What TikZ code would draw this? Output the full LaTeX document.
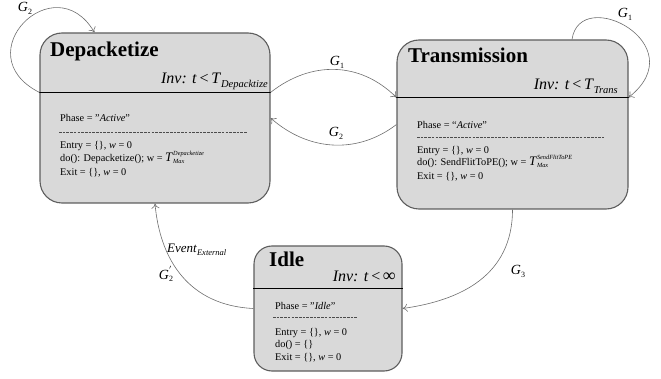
\documentclass[tikz,border=0pt]{standalone}
\usepackage{fontspec}
\setmainfont{Liberation Serif}
\usetikzlibrary{arrows.meta}

\definecolor{boxfill}{HTML}{D9D9D9}
\definecolor{boxline}{HTML}{5E5E5E}
\definecolor{arcline}{HTML}{6E6E6E}

% subscript / stacked super+subscript in text fonts
\newcommand\lowsub[2][8]{\raisebox{-0.45ex}{\fontsize{#1}{#1}\selectfont #2}}
\newcommand\supsub[2]{\makebox[0pt][l]{\raisebox{1.25ex}{\fontsize{6.3}{7}\selectfont\textit{#1}}}\raisebox{-0.5ex}{\fontsize{6.3}{7}\selectfont\textit{#2}}}

\tikzset{
  statebox/.style={draw=boxline, fill=boxfill, line width=1.1pt, rounded corners=22pt, inner sep=0pt},
  sepline/.style={line width=1.8pt, black},
  dashline/.style={draw=black!70, line width=0.5pt, dash pattern=on 2.6pt off 1.1pt},
  title/.style={anchor=base west, inner sep=0pt, font=\fontsize{21}{24}\selectfont\bfseries},
  inv/.style={anchor=base east, inner sep=0pt, font=\fontsize{16}{18}\selectfont},
  body/.style={anchor=base west, inner sep=0pt, font=\fontsize{10.3}{12.7}\selectfont},
  trans/.style={draw=arcline, line width=0.6pt, -{To[length=5pt,width=8pt]}},
  glabel/.style={inner sep=0pt, font=\fontsize{14}{16}\selectfont}
}

\begin{document}
\begin{tikzpicture}[x=1pt,y=-1pt]
\useasboundingbox (0,0) rectangle (661,379);

% ---- states ----
\node[statebox, minimum width=230pt, minimum height=170pt] (dep) at (155,118) {};
\node[statebox, minimum width=231pt, minimum height=169pt] (tra) at (512.5,124.5) {};
\node[statebox, rounded corners=18pt, minimum width=148pt, minimum height=125pt] (idle) at (328,308.5) {};

% separators between header and body
\draw[sepline] ([yshift=-60pt]dep.north west) -- ([yshift=-60pt]dep.north east);
\draw[sepline] ([yshift=-58pt]tra.north west) -- ([yshift=-58pt]tra.north east);
\draw[sepline] ([yshift=-43pt]idle.north west) -- ([yshift=-43pt]idle.north east);

% ---- Depacketize ----
\node[title] (dep-t) at (50,57) {Depacketize};
\node[inv] (dep-inv) at (268,84) {\textit{Inv: t}\,<\,\textit{T}\lowsub[10.5]{\textit{Depacktize}}};
\node[body] (dep-ph) at (60,122) {Phase = "\textit{Active}"};
\draw[dashline] (59,132) -- (247,132);
\node[body] (dep-en) at (60,149) {Entry = \{\}, \textit{w} = 0};
\node[body] (dep-do) at (60,161.5) {do(): Depacketize(); w = {\fontsize{13}{13}\selectfont\textit{T}}\supsub{Depacketize}{Max}};
\node[body] (dep-ex) at (60,176) {Exit = \{\}, \textit{w} = 0};

% ---- Transmission ----
\node[title] (tra-t) at (408,63) {Transmission};
\node[inv] (tra-inv) at (618,90) {\textit{Inv: t}\,<\,\textit{T}\lowsub[10.5]{\textit{Trans}}};
\node[body] (tra-ph) at (417,129) {Phase = ``\textit{Active}''};
\draw[dashline] (417,137) -- (604,137);
\node[body] (tra-en) at (417,154) {Entry = \{\}, \textit{w} = 0};
\node[body] (tra-do) at (417,165.5) {do(): SendFlitToPE(); w = {\fontsize{13}{13}\selectfont\textit{T}}\supsub{SendFlitToPE}{Max}};
\node[body] (tra-ex) at (417,180) {Exit = \{\}, \textit{w} = 0};

% ---- Idle ----
\node[title] (idle-t) at (269,267) {Idle};
\node[inv] (idle-inv) at (396,282) {\textit{Inv: t}\,<\,{\fontsize{18}{18}\selectfont ∞}};
\node[body] (idle-ph) at (275,309) {Phase = "\textit{Idle}"};
\draw[dashline] (273,317) -- (358,317);
\node[body] (idle-en) at (275,335) {Entry = \{\}, \textit{w} = 0};
\node[body] (idle-do) at (275,347) {do() = \{\}};
\node[body] (idle-ex) at (275,360) {Exit = \{\}, \textit{w} = 0};

% ---- transitions ----
% self loop on Depacketize
\draw[trans] ([yshift=-60pt]dep.north west) .. controls +(-75,-38) and +(-40,-68) .. ([xshift=55pt]dep.north west);
% self loop on Transmission
\draw[trans] ([xshift=59.5pt]tra.north) .. controls +(8,-55) and +(67,-53) .. ([yshift=-58pt]tra.north east);
% Depacketize -> Transmission
\draw[trans] ([yshift=-60pt]dep.north east) .. controls +(40,-31.5) and +(-37,-36.5) .. ([yshift=-58pt]tra.north west);
% Transmission -> Depacketize
\draw[trans] (tra.west) .. controls +(-37,28.5) and +(40,35) .. (dep.east);
% Transmission -> Idle
\draw[trans] (tra.south) .. controls +(0,66) and +(58,-8) .. (idle.east);
% Idle -> Depacketize
\draw[trans] (idle.west) .. controls +(-64,-3) and +(5,57) .. (dep.south);

% ---- guard labels ----
\node[glabel] (l-g2loop) at (25,8) {\textit{G}\lowsub{2}};
\node[glabel] (l-g1loop) at (625,14) {\textit{G}\lowsub{1}};
\node[glabel] (l-g1) at (337,62) {\textit{G}\lowsub{1}};
\node[glabel] (l-g2) at (336,133) {\textit{G}\lowsub{2}};
\node[glabel] (l-g3) at (518,271) {\textit{G}\lowsub{3}};
\node[glabel, anchor=base west, font=\fontsize{13}{15}\selectfont] (l-ev) at (167,253) {\textit{Event}\lowsub[8.5]{\textit{External}}};
\node[glabel] (l-g2p) at (166,274) {\textit{G}\makebox[0pt][l]{\raisebox{0.9ex}{\fontsize{9}{9}\selectfont$'$}}\lowsub{2}};
\end{tikzpicture}
\end{document}
